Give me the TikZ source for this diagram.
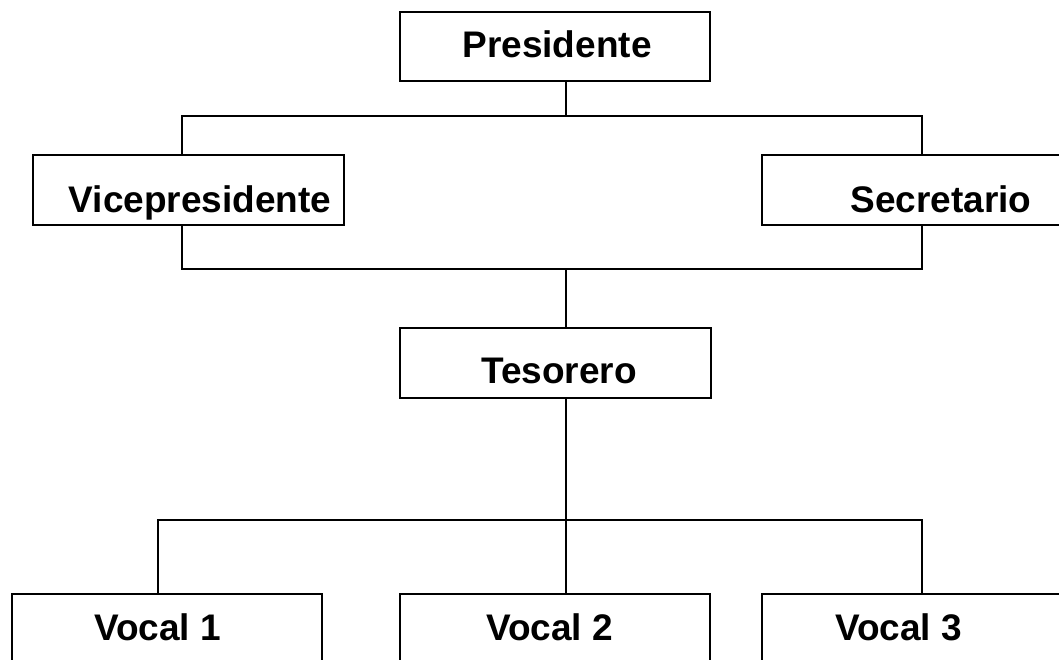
\documentclass[tikz,border=0pt]{standalone}
\usepackage{fontspec}
\setmainfont{Liberation Sans}
\usetikzlibrary{positioning}

\begin{document}
\begin{tikzpicture}[
  x=0.5pt, y=-0.5pt,
  box/.style={draw, line width=1.15pt, minimum width=155pt, minimum height=35pt,
              inner sep=0pt},
  txt/.style={font=\fontsize{18.5}{22}\selectfont\bfseries, anchor=base,
              inner sep=0pt},
  wire/.style={line width=1.15pt}
]
\useasboundingbox (0,0) rectangle (1059,659);

%
%  Layout (pixels, y down):
%
%  row  46 :             [Presidente]
%  row 190 :  [Vicepresidente]          [Secretario]
%  row 363 :              [Tesorero]
%  row 637 :  [Vocal 1]    [Vocal 2]    [Vocal 3]
%

% --- Presidente ---
\node[box, minimum height=34.5pt] (pres) at (555, 46.5) {};
\node[txt] (pres_t) at (557, 57) {Presidente};

% --- Vicepresidente / Secretario ---
\node[box, minimum width=155.5pt] (vice) at (188.5, 190) {};
\node[txt] (vice_t) at (200, 212) {Vicepresidente};
\node[box, minimum width=154pt] (secr) at (916, 190) {};
\node[txt] (secr_t) at (941, 212) {Secretario};

% --- Tesorero ---
\node[box, minimum width=155.5pt] (teso) at (555.5, 363) {};
\node[txt] (teso_t) at (559, 383) {Tesorero};

% --- Vocales ---
\node[box, minimum height=43pt] (voc1) at (167, 637) {};
\node[txt] (voc1_t) at (157.5, 640) {Vocal 1};
\node[box, minimum height=43pt] (voc2) at (555, 637) {};
\node[txt] (voc2_t) at (549.5, 640) {Vocal 2};
\node[box, minimum width=154pt, minimum height=43pt] (voc3) at (916, 637) {};
\node[txt] (voc3_t) at (898.5, 640) {Vocal 3};

% ---- Connections ----
\coordinate (top_mid) at (566, 116);
\coordinate (top_l)   at (182, 116);
\coordinate (top_r)   at (922, 116);
\coordinate (mid_mid) at (566, 269);
\coordinate (mid_l)   at (182, 269);
\coordinate (mid_r)   at (922, 269);
\coordinate (low_mid) at (566, 520);
\coordinate (low_l)   at (158, 520);
\coordinate (low_r)   at (922, 520);

% Presidente -> Vicepresidente, Secretario
\draw[wire] (pres.south -| top_mid) -- (top_mid);
\draw[wire] (vice.north -| top_l) -- (top_l) -- (top_r) -- (secr.north -| top_r);

% Vicepresidente, Secretario -> Tesorero
\draw[wire] (vice.south -| mid_l) -- (mid_l) -- (mid_r) -- (secr.south -| mid_r);
\draw[wire] (mid_mid) -- (teso.north -| mid_mid);

% Tesorero -> Vocales
\draw[wire] (teso.south -| low_mid) -- (low_mid);
\draw[wire] (voc1.north -| low_l) -- (low_l) -- (low_r) -- (voc3.north -| low_r);
\draw[wire] (low_mid) -- (voc2.north -| low_mid);

\end{tikzpicture}
\end{document}
